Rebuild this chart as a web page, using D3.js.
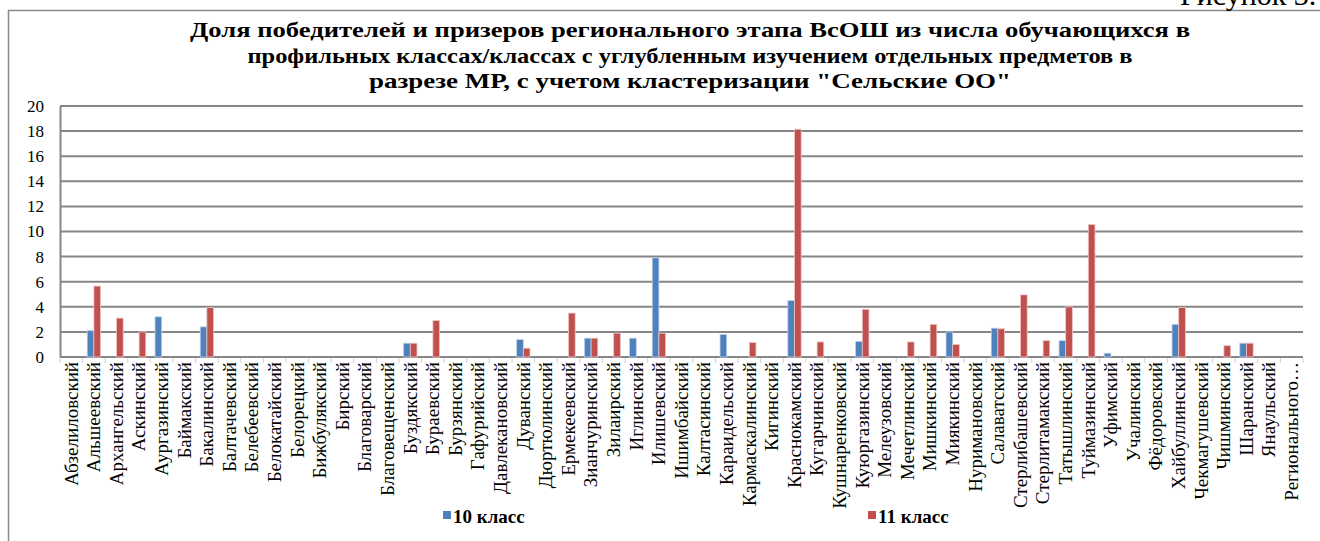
<!DOCTYPE html>
<html>
<head>
<meta charset="utf-8">
<script src="https://cdn.jsdelivr.net/npm/d3@7"></script>
<style>
html,body{margin:0;padding:0;background:#fff;}
svg{display:block;}
text{font-family:"Liberation Serif","Times New Roman",serif;}
</style>
</head>
<body>
<svg id="chart" width="1320" height="541"></svg>
<script>
const categories = ["Абзелиловский","Альшеевский","Архангельский","Аскинский","Аургазинский","Баймакский","Бакалинский","Балтачевский","Белебеевский","Белокатайский","Белорецкий","Бижбулякский","Бирский","Благоварский","Благовещенский","Буздякский","Бураевский","Бурзянский","Гафурийский","Давлекановский","Дуванский","Дюртюлинский","Ермекеевский","Зианчуринский","Зилаирский","Иглинский","Илишевский","Ишимбайский","Калтасинский","Караидельский","Кармаскалинский","Кигинский","Краснокамский","Кугарчинский","Кушнаренковский","Куюргазинский","Мелеузовский","Мечетлинский","Мишкинский","Миякинский","Нуримановский","Салаватский","Стерлибашевский","Стерлитамакский","Татышлинский","Туймазинский","Уфимский","Учалинский","Фёдоровский","Хайбуллинский","Чекмагушевский","Чишминский","Шаранский","Янаульский","Регионального…"];

const values10 = [null,2.1,null,null,3.2,null,2.4,null,null,null,null,null,null,null,null,1.1,null,null,null,null,1.4,null,null,1.5,null,1.5,7.9,null,null,1.8,null,null,4.5,null,null,1.25,null,null,null,2.0,null,2.3,null,null,1.3,null,0.3,null,null,2.6,null,null,1.1,null,null];

const values11 = [null,5.65,3.1,2.0,null,null,3.95,null,null,null,null,null,null,null,null,1.1,2.9,null,null,null,0.7,null,3.5,1.5,1.9,null,1.9,null,null,null,1.15,null,18.15,1.2,null,3.8,null,1.2,2.6,1.0,null,2.25,4.95,1.3,4.0,10.55,null,null,null,3.95,null,0.9,1.1,null,null];

const seriesNames = ["10 класс","11 класс"];
const seriesColors = ["#4F81BD","#C0504D"];
const yTicks = [0,2,4,6,8,10,12,14,16,18,20];
const titleLines = ["Доля победителей и призеров регионального этапа ВсОШ из числа обучающихся в","профильных классах/классах с углубленным изучением отдельных предметов в","разрезе МР, с учетом кластеризации \"Сельские ОО\""];
const figureLabel = "Рисунок 3.";

const SERIF = "'Liberation Serif','Times New Roman',serif";
const svg = d3.select("#chart");
svg.append("rect").attr("width",1320).attr("height",541).attr("fill","#fff");

// outer chart border (right/bottom outside view)
svg.append("rect").attr("x",8.5).attr("y",10.5).attr("width",1400).attr("height",700)
  .attr("fill","none").attr("stroke","#8a8a8a").attr("stroke-width",1.5);

// figure label at top right (clipped as in the source)
svg.append("text").attr("x",1180).attr("y",5).attr("font-size",30).attr("fill","#000")
  .style("font-family",SERIF).text(figureLabel);

const margin = {left:60, right:17, top:106};
const W = 1320;
const plotW = W - margin.left - margin.right;
const y0 = 357;

const x = d3.scaleBand().domain(categories).range([margin.left, margin.left+plotW]).padding(0);
const bw = x.bandwidth();
const x1 = d3.scaleBand().domain([0,1]).range([bw*0.205, bw*0.795]).padding(0);
const y = d3.scaleLinear().domain([0,20]).range([y0, margin.top]);

// gridlines
svg.append("g").selectAll("line").data(yTicks).join("line")
  .attr("x1",margin.left).attr("x2",margin.left+plotW)
  .attr("y1",d=>y(d)).attr("y2",d=>y(d))
  .attr("stroke","#868686").attr("stroke-width",2);

// y axis
const yAxis = d3.axisLeft(y).tickValues(yTicks).tickSize(0).tickPadding(16).tickFormat(d3.format("d"));
const ya = svg.append("g").attr("transform",`translate(${margin.left},0)`).call(yAxis);
ya.select(".domain").attr("stroke","#868686").attr("stroke-width",2);
ya.selectAll("text").attr("font-size",17).attr("fill","#000").style("font-family",SERIF);

// x axis
const xAxis = d3.axisBottom(x).tickSize(0).tickPadding(0);
const xa = svg.append("g").attr("transform",`translate(0,${y0})`).call(xAxis);
xa.select(".domain").remove();
xa.selectAll("text")
  .attr("font-size",19).attr("fill","#000")
  .style("font-family",SERIF)
  .attr("text-anchor","end")
  .attr("dy","0.33em")
  .attr("transform","translate(0,5) rotate(-90)")
  .attr("x",0).attr("y",0);

// small tick marks at category boundaries
svg.append("g").selectAll("line").data(d3.range(categories.length+1)).join("line")
  .attr("x1",i=>margin.left + i*bw).attr("x2",i=>margin.left + i*bw)
  .attr("y1",y0+1).attr("y2",y0+6)
  .attr("stroke","#d0d0d0").attr("stroke-width",1);

// bars
const series = [values10, values11];
series.forEach((vals, si) => {
  svg.append("g").selectAll("rect")
    .data(categories.map((c,i)=>({c, v: vals[i]})).filter(d=>d.v!=null))
    .join("rect")
    .attr("x", d => x(d.c) + x1(si))
    .attr("width", x1.bandwidth())
    .attr("y", d => y(d.v))
    .attr("height", d => y0 - y(d.v))
    .attr("fill", seriesColors[si])
    .attr("stroke", si===0 ? "#bcd0ea" : "#ecc4c3")
    .attr("stroke-width", 0.8);
});

// title (stretched to the source's line widths)
const titleWidths = [1000, 885, 642];
const t = svg.append("text").attr("text-anchor","middle").attr("font-size",21).attr("font-weight","bold")
  .attr("fill","#000").style("font-family",SERIF);
titleLines.forEach((ln,i)=>{
  t.append("tspan").attr("x",690).attr("y",37 + i*25.5)
    .attr("textLength",titleWidths[i]).attr("lengthAdjust","spacingAndGlyphs").text(ln);
});

// legend
const legendX = [443, 868];
seriesNames.forEach((n,i)=>{
  svg.append("rect").attr("x",legendX[i]).attr("y",511).attr("width",8).attr("height",8).attr("fill",seriesColors[i]);
  svg.append("text").attr("x",legendX[i]+10).attr("y",523).attr("font-size",19).attr("font-weight","bold")
    .attr("fill","#000").style("font-family",SERIF).text(n);
});
</script>
</body>
</html>
